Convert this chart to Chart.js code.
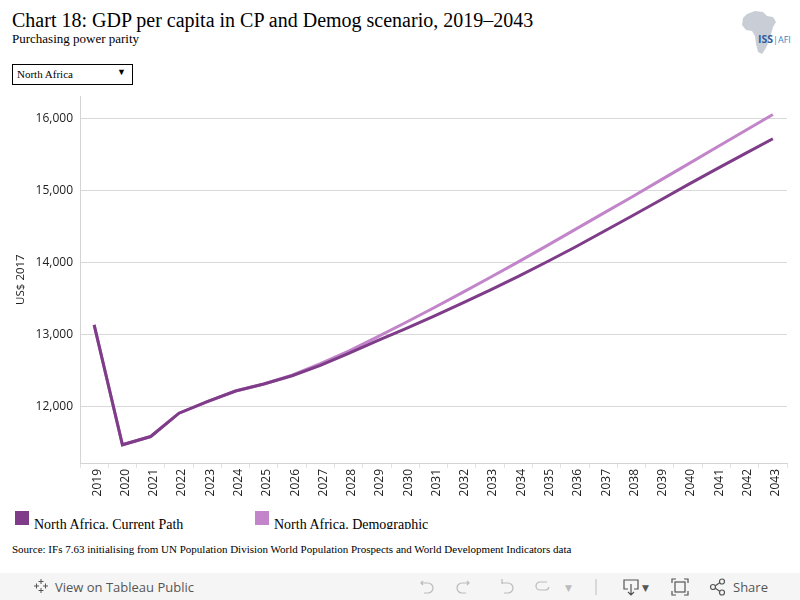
<!DOCTYPE html>
<html>
<head>
<meta charset="utf-8">
<title>Chart 18: GDP per capita in CP and Demog scenario</title>
<script src="https://cdn.jsdelivr.net/npm/chart.js"></script>
<style>
  html, body { margin: 0; padding: 0; background: #fff; }
  body { width: 800px; height: 600px; position: relative; overflow: hidden; }
  .serif { font-family: "Liberation Serif", "Times New Roman", serif; color: #000; }
  #title { position: absolute; left: 12px; top: 9px; font-size: 20px; white-space: nowrap; }
  #subtitle { position: absolute; left: 12px; top: 31px; font-size: 13px; white-space: nowrap; }
  #logo { position: absolute; left: 738px; top: 8px; }
  #dropdown { position: absolute; left: 12px; top: 64px; width: 119px; height: 19px; border: 1px solid #000; }
  #dropdown span { position: absolute; left: 4px; top: 3px; font-size: 11px; }
  #dropdown i { position: absolute; right: 6px; top: 2px; font-size: 9px; font-style: normal; }
  #chartBox { position: absolute; left: 0; top: 82px; width: 800px; height: 418px; }
  .legItem { position: absolute; top: 511px; height: 18px; overflow: hidden; }
  .legItem b { position: absolute; left: 0; top: 0; width: 14px; height: 14px; }
  .legItem span { position: absolute; left: 19px; top: 6px; font-size: 14px; white-space: nowrap; }
  #source { position: absolute; left: 12px; top: 543px; font-size: 11px; white-space: nowrap; }
  #toolbar { position: absolute; left: 0; top: 573px; width: 800px; height: 27px; background: #f5f5f5; font-family: "Open Sans", "DejaVu Sans", sans-serif; color: #555; }
  #toolbar .txt { position: absolute; top: 5px; font-size: 13px; }
  #toolbar svg { position: absolute; top: 5px; }
</style>
</head>
<body>

<div id="title" class="serif">Chart 18: GDP per capita in CP and Demog scenario, 2019–2043</div>
<div id="subtitle" class="serif">Purchasing power parity</div>

<!-- logo ISS Africa (aproximação) -->
<svg id="logo" width="60" height="50" viewBox="0 0 60 50">
  <path d="M9 6 L17 3 L25 4 L29 8 L35 9 L38 14 L35 19 L33 26 L31 33 L28 40 L24 46 L20 44 L18 36 L17 28 L14 23 L8 22 L4 17 L5 10 Z" fill="#c9ced6"/>
  <text x="20" y="35" font-family="Open Sans, DejaVu Sans, sans-serif" font-size="10.5" fill="#2f5e9e" font-weight="bold">ISS</text>
  <text x="35" y="35" font-family="Open Sans, DejaVu Sans, sans-serif" font-size="9" fill="#3d7fc0">|AFI</text>
</svg>

<div id="dropdown" class="serif"><span>North Africa</span><i>▼</i></div>

<div id="chartBox"><canvas id="chartGdp"></canvas></div>

<div class="legItem serif" style="left:15px; width:220px;"><b style="background:#7e3c89"></b><span>North Africa. Current Path</span></div>
<div class="legItem serif" style="left:255px; width:220px;"><b style="background:#c285c9"></b><span>North Africa. Demographic</span></div>

<div id="source" class="serif">Source: IFs 7.63 initialising from UN Population Division World Population Prospects and World Development Indicators data</div>

<div id="toolbar">
  <svg style="left:33px" width="16" height="16" viewBox="0 0 16 16" stroke="#555" stroke-width="1">
    <path d="M8 1v5M5.5 3.5h5M8 10v5M5.5 12.5h5M1 8h5M3.5 5.5v5M10 8h5M12.5 5.5v5"/>
  </svg>
  <span class="txt" style="left:55px">View on Tableau Public</span>
  <svg style="left:419px" width="16" height="16" viewBox="0 0 16 16" fill="none" stroke="#bbb" stroke-width="1.2">
    <path d="M4 3 L2 5 L4 7 M2 5 H9 A5 5 0 0 1 9 15 H5"/>
  </svg>
  <svg style="left:455px" width="16" height="16" viewBox="0 0 16 16" fill="none" stroke="#bbb" stroke-width="1.2">
    <path d="M12 3 L14 5 L12 7 M14 5 H7 A5 5 0 0 0 7 15 H11"/>
  </svg>
  <svg style="left:499px" width="16" height="16" viewBox="0 0 16 16" fill="none" stroke="#bbb" stroke-width="1.2">
    <path d="M3 1 V6 M3 5 H9 A5 5 0 0 1 9 15 H5"/>
  </svg>
  <svg style="left:535px" width="16" height="16" viewBox="0 0 16 16" fill="none" stroke="#bbb" stroke-width="1.2">
    <path d="M12 4 H5 A4 4 0 0 0 5 12 H11 A4 4 0 0 0 14 9"/>
  </svg>
  <span class="txt" style="left:565px; font-size:9px; top:8px; color:#bbb">▼</span>
  <svg style="left:594px" width="4" height="18" viewBox="0 0 4 18"><path d="M2 1 V17" stroke="#bbb"/></svg>
  <svg style="left:622px" width="18" height="18" viewBox="0 0 18 18" fill="none" stroke="#555" stroke-width="1.2">
    <path d="M6 11 H2 V2 H16 V11 H12 M9 6 V17 M6 14 L9 17 L12 14"/>
  </svg>
  <span class="txt" style="left:642px; font-size:9px; top:8px; color:#555">▼</span>
  <svg style="left:671px" width="18" height="18" viewBox="0 0 18 18" fill="none" stroke="#555" stroke-width="1.2">
    <path d="M1 5 V1 H5 M13 1 H17 V5 M17 13 V17 H13 M5 17 H1 V13"/>
    <rect x="4" y="4" width="10" height="10"/>
  </svg>
  <svg style="left:709px" width="18" height="18" viewBox="0 0 18 18" fill="none" stroke="#555" stroke-width="1.2">
    <circle cx="4" cy="9" r="2.5"/><circle cx="13" cy="3.5" r="2.5"/><circle cx="13" cy="14.5" r="2.5"/>
    <path d="M6 8 L11 4.5 M6 10 L11 13.5"/>
  </svg>
  <span class="txt" style="left:733px">Share</span>
</div>

<script>
// Dados: PIB per capita (US$ 2017, PPP), North Africa

const years = ['2019', '2020', '2021', '2022', '2023', '2024', '2025', '2026', '2027', '2028',
    '2029', '2030', '2031', '2032', '2033', '2034', '2035', '2036', '2037', '2038',
    '2039', '2040', '2041', '2042', '2043'];

// Current Path
const currentPath = [13130, 11464, 11579, 11903, 12064, 12212, 12309, 12424, 12567, 12733,
    12910, 13075, 13250, 13430, 13615, 13805, 14005, 14210, 14425, 14640,
    14860, 15080, 15295, 15507, 15718];

// Demographic
const demographic = [13130, 11464, 11579, 11903, 12064, 12212, 12309, 12432, 12592, 12765,
    12960, 13160, 13365, 13575, 13789, 14007, 14229, 14455, 14680, 14905,
    15135, 15365, 15595, 15825, 16055];

const yTicks = [12000, 13000, 14000, 15000, 16000];
const seriesLabels = ['North Africa. Current Path', 'North Africa. Demographic'];
const seriesColors = ['#7e3c89', '#c285c9'];

const tickFont = { family: '"Open Sans", "DejaVu Sans", sans-serif', size: 12 };
const titleFont = { family: '"Open Sans", "DejaVu Sans", sans-serif', size: 11.5 };

const ctx = document.getElementById('chartGdp').getContext('2d');

// dataset 0 fica por cima (Chart.js desenha do último para o primeiro)
new Chart(ctx, {
    type: 'line',
    data: {
        labels: years,
        datasets: [
            {
                label: seriesLabels[0],
                data: currentPath,
                borderColor: seriesColors[0],
                backgroundColor: seriesColors[0],
                borderWidth: 3,
                pointRadius: 0,
                tension: 0
            },
            {
                label: seriesLabels[1],
                data: demographic,
                borderColor: seriesColors[1],
                backgroundColor: seriesColors[1],
                borderWidth: 3,
                pointRadius: 0,
                tension: 0
            }
        ]
    },
    options: {
        responsive: true,
        maintainAspectRatio: false,
        animation: false,
        layout: { padding: { top: 5, right: 13, left: 0, bottom: 0 } },
        plugins: {
            legend: { display: false },
            tooltip: { enabled: false }
        },
        scales: {
            x: {
                offset: true,
                grid: {
                    offset: true,
                    drawOnChartArea: false,
                    drawTicks: true,
                    tickLength: 5,
                    color: '#e3e3e3'
                },
                border: { display: true, color: '#d4d4d4' },
                ticks: {
                    minRotation: 90,
                    maxRotation: 90,
                    autoSkip: false,
                    padding: 1,
                    labelOffset: 3,
                    color: '#222',
                    font: tickFont
                },
                afterFit: (scale) => { scale.height = 37; }
            },
            y: {
                min: 11211,
                max: 16309,
                grid: { color: '#d9d9d9', drawTicks: false },
                border: { display: true, color: '#d4d4d4' },
                title: {
                    display: true,
                    text: 'US$ 2017',
                    color: '#222',
                    font: titleFont,
                    padding: { top: 14, bottom: 0 }
                },
                ticks: {
                    padding: 7,
                    color: '#222',
                    font: tickFont,
                    callback: (v) => v.toLocaleString('en-US')
                },
                afterBuildTicks: (scale) => {
                    scale.ticks = yTicks.map(v => ({ value: v }));
                },
                afterFit: (scale) => { scale.width = 80; }
            }
        }
    }
});
</script>
</body>
</html>
